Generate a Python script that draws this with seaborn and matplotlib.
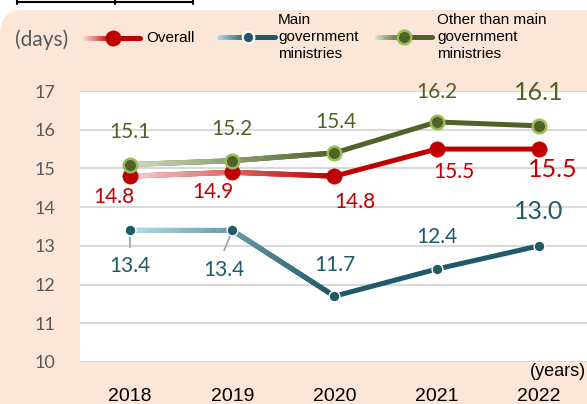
import numpy as np
import pandas as pd
import seaborn as sns
import matplotlib.pyplot as plt
from matplotlib.collections import LineCollection
from matplotlib.patches import FancyBboxPatch
from matplotlib.lines import Line2D
from matplotlib.colors import to_rgb

# data
years = ['2018', '2019', '2020', '2021', '2022']
overall = [14.8, 14.9, 14.8, 15.5, 15.5]
main_min = [13.4, 13.4, 11.7, 12.4, 13.0]
other_min = [15.1, 15.2, 15.4, 16.2, 16.1]
y_ticks = [10, 11, 12, 13, 14, 15, 16, 17]

BG = '#fce6d8'
RED, RED_L = '#c00000', '#f7d2d2'
TEAL, TEAL_L = '#215968', '#b4dde8'
GREEN, GREEN_L = '#4f6228', '#d3dcc0'
GRAY = '#595959'

sns.set_style('white')
plt.rcParams['font.family'] = ['Liberation Sans', 'DejaVu Sans']

fig = plt.figure(figsize=(5.87, 4.04), dpi=100)
fig.add_artist(FancyBboxPatch((0, -40), 660, 434, boxstyle='round,pad=0,rounding_size=24',
                              transform=None, fc=BG, ec='none', zorder=0))
# bottom edge of the cut-off title box
fig.add_artist(Line2D([17, 193], [402.5, 402.5], transform=None, color='black', lw=1.5))
for xx in [17, 115, 193]:
    fig.add_artist(Line2D([xx, xx], [400, 404], transform=None, color='black', lw=1.5))

ax = fig.add_axes([80 / 587, 42 / 404, 507 / 587, 271 / 404])
ax.set_facecolor('white')
idx = np.arange(len(years))
df = pd.DataFrame({'x': idx, 'overall': overall, 'main': main_min, 'other': other_min})


def mix(c0, c1, t):
    a, b = np.array(to_rgb(c0)), np.array(to_rgb(c1))
    return tuple(a + (b - a) * t)


def grad(axis, px, py, c0, c1, lw, z):
    pts = np.column_stack([px, py])
    segs = np.stack([pts[:-1], pts[1:]], axis=1)
    tt = np.linspace(0, 1, len(segs))
    lc = LineCollection(segs, colors=[mix(c0, c1, t) for t in tt], linewidths=lw,
                        capstyle='round', zorder=z)
    axis.add_collection(lc)


series = [
    ('main', TEAL, TEAL_L, 60, 'white', 1.0, 2),
    ('overall', RED, RED_L, 120, RED, 0.5, 3),
    ('other', GREEN, GREEN_L, 95, '#9bbb59', 1.8, 4),
]
for col, c, cl, s, ec, ew, z in series:
    sns.lineplot(data=df, x='x', y=col, ax=ax, color=c, lw=3.6, zorder=z,
                 solid_capstyle='round', solid_joinstyle='round')
    # faded start of the line (2018 -> 2020)
    gx = np.linspace(0, 2, 61)
    gy = np.interp(gx, idx, df[col])
    grad(ax, gx, gy, cl, c, 3.6, z + 0.1)
    sns.scatterplot(data=df, x='x', y=col, ax=ax, s=s, color=c, edgecolor=ec,
                    linewidth=ew, zorder=z + 5)

# data labels
lab_font = dict(family='Lato', ha='center', va='center')
off_overall = [(-16, -21), (-19, -20), (20, -26), (17, -23), (14, -20)]
off_other = [(0, 33), (0, 32), (1, 31), (0, 30), (0, 33)]
off_main = [(0, -36), (-8, -40), (0, 31), (0, 32), (0, 34)]
for vals, offs, c in [(overall, off_overall, RED), (other_min, off_other, GREEN),
                      (main_min, off_main, TEAL)]:
    for i, v in enumerate(vals):
        big = i == len(vals) - 1
        ax.annotate(f'{v:.1f}', (i, v), xytext=offs[i], textcoords='offset pixels',
                    color=c, fontsize=18 if big else 15, zorder=20, **lab_font)

# leader lines for the 13.4 labels
for i, d in [(0, (0, -17)), (1, (-8, -20))]:
    ax.annotate('', (i, main_min[i]), xytext=d, textcoords='offset pixels',
                arrowprops=dict(arrowstyle='-', color='#a6a6a6', lw=1.3, shrinkA=0, shrinkB=4))

ax.set_xlim(-0.489, 4.47)
ax.set_ylim(10, 17)
ax.set_yticks(y_ticks)
ax.set_yticklabels([str(t) for t in y_ticks], family='Lato', fontsize=13, color=GRAY)
ax.set_xticks(idx)
ax.set_xticklabels(years, fontsize=14, color='black')
ax.tick_params(axis='y', length=0, pad=18)
ax.tick_params(axis='x', length=0, pad=19)
ax.grid(axis='y', color='#d9d9d9', lw=1.5)
ax.grid(axis='x', visible=False)
ax.set_xlabel('')
ax.set_ylabel('')
for sp in ax.spines.values():
    sp.set_visible(False)

# legend / annotations in pixel space
lg = fig.add_axes([0, 0, 1, 1], zorder=5)
lg.set_xlim(0, 587)
lg.set_ylim(404, 0)
lg.axis('off')
lg.text(15, 40, '(days)', family='Lato', fontsize=15, color=GRAY, va='center', ha='left')
lg.text(586, 372, '(years)', fontsize=13, color='black', va='center', ha='right')

leg = [(85, 113, 140, 38, RED, RED_L, 120, RED, 0.5, 'Overall', 146),
       (219, 248, 275, 37, TEAL, TEAL_L, 70, 'white', 1.6, 'Main\ngovernment\nministries', 278),
       (377, 404, 432, 37, GREEN, GREEN_L, 95, '#9bbb59', 1.8,
        'Other than main\ngovernment\nministries', 437)]
for x0, xm, x1, yy, c, cl, s, ec, ew, txt, tx in leg:
    gx = np.linspace(x0, xm, 30)
    grad(lg, gx, np.full_like(gx, yy), cl, c, 3.6, 2)
    lg.plot([xm, x1], [yy, yy], color=c, lw=3.6, solid_capstyle='round', zorder=2)
    lg.scatter([xm], [yy], s=s, color=c, edgecolor=ec, linewidth=ew, zorder=3)
    lg.text(tx, yy, txt, fontsize=11, color='black', va='center', ha='left', linespacing=1.3)

fig.savefig('out.png', dpi=100, facecolor='white')
